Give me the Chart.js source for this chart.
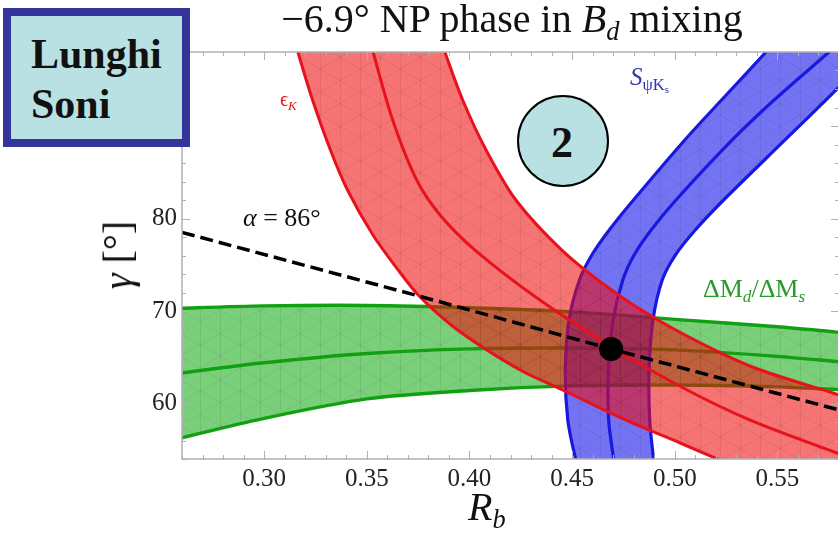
<!DOCTYPE html>
<html>
<head>
<meta charset="utf-8">
<script src="https://cdn.jsdelivr.net/npm/chart.js@4.4.0/dist/chart.umd.min.js"></script>
<style>
  html, body { margin: 0; padding: 0; background: #fff; overflow: hidden; }
  #cntr { position: relative; width: 838px; height: 535px; overflow: hidden;
          font-family: "Liberation Serif", "Times New Roman", serif; color: #111; }
  #grafica { position: absolute; left: 0; top: 0; }
  .txt { position: absolute; white-space: nowrap; line-height: 1; }
  sub { font-size: 0.66em; vertical-align: -0.3em; line-height: 0; }
  #caja { position: absolute; left: 3px; top: 8px; width: 187px; height: 139px; box-sizing: border-box;
          border: 8px solid #34349a; background: #b9e1e4; }
  #circulo { position: absolute; left: 517px; top: 95px; width: 92px; height: 92px; box-sizing: border-box;
             border: 2px solid #000; border-radius: 50%; background: #b9e1e4; }
</style>
</head>
<body>
<div id="cntr">
  <canvas id="grafica" width="840" height="535"></canvas>

  <div class="txt" style="left:512px; top:-1.5px; font-size:40px; transform:translateX(-50%);">&minus;6.9° NP phase in <i>B</i><sub><i>d</i></sub> mixing</div>

  <div id="caja"></div>
  <div class="txt" style="left:31px; top:33px; font-size:42px; font-weight:bold;">Lunghi</div>
  <div class="txt" style="left:31px; top:83px; font-size:42px; font-weight:bold;">Soni</div>

  <div id="circulo"></div>
  <div class="txt" style="left:562px; top:121px; font-size:44px; font-weight:bold; transform:translateX(-50%);">2</div>

  <div class="txt" style="left:280px; top:89px; font-size:20px; color:#e01a1a;">ϵ<sub><i>K</i></sub></div>
  <div class="txt" style="left:630px; top:64px; font-size:25px; color:#3434b4;"><i>S</i><sub>ψK<sub>s</sub></sub></div>
  <div class="txt" style="left:703px; top:276px; font-size:26px; color:#2a9a2a;">ΔM<sub><i>d</i></sub>/ΔM<sub><i>s</i></sub></div>
  <div class="txt" style="left:243px; top:205px; font-size:26px;"><i>α</i> = 86°</div>

  <div class="txt" style="left:118px; top:255px; font-size:40px; transform:translate(-50%,-50%) rotate(-90deg);"><i>γ</i> [°]</div>
  <div class="txt" style="left:468px; top:487px; font-size:40px;"><i>R</i><sub><i>b</i></sub></div>
</div>

<script>
// Ejes
const xMin = 0.26, xMax = 0.58;
const yMin = 54, yMax = 98;
const xTicks = [0.30, 0.35, 0.40, 0.45, 0.50, 0.55];
const yTicks = [60, 70, 80, 90];

// Banda verde: ΔMd/ΔMs  [Rb, gamma]
const dmUpper = [[0.25, 70.2], [0.26, 70.3], [0.30, 70.55], [0.35, 70.6], [0.40, 70.35], [0.45, 69.9], [0.50, 69.1], [0.55, 68.3], [0.58, 67.7], [0.59, 67.5]];
const dmMid   = [[0.25, 62.9], [0.26, 63.3], [0.30, 64.4], [0.35, 65.4], [0.40, 65.9], [0.45, 66.0], [0.50, 65.8], [0.55, 65.1], [0.58, 64.5], [0.59, 64.3]];
const dmLower = [[0.25, 55.7], [0.26, 56.3], [0.30, 58.4], [0.35, 60.5], [0.40, 61.4], [0.45, 61.9], [0.50, 62.0], [0.55, 61.8], [0.58, 61.5], [0.59, 61.4]];

// Banda roja: epsilon_K
const ekLeft  = [[0.3122, 101.46], [0.3166, 97.89], [0.3236, 92.81], [0.3323, 87.41], [0.3406, 83.08], [0.3530, 78.22],
                 [0.3653, 74.43], [0.3755, 71.62], [0.3911, 68.49], [0.4085, 65.78], [0.4265, 63.41], [0.4454, 61.46],
                 [0.4760, 58.22], [0.5027, 55.73], [0.5231, 53.78], [0.5454, 51.73], [0.5746, 49.57]];
const ekMid   = [[0.3488, 101.46], [0.3532, 97.89], [0.3626, 90.65], [0.3743, 84.16], [0.3857, 80.38], [0.4027, 76.59],
                 [0.4343, 71.19], [0.4702, 66.00], [0.5032, 61.78], [0.5365, 58.22], [0.5790, 54.65], [0.60, 53.1]];
const ekRight = [[0.3826, 101.46], [0.3882, 97.89], [0.3967, 92.81], [0.4081, 87.41], [0.4226, 82.00], [0.4450, 76.59],
                 [0.4692, 72.27], [0.4918, 69.03], [0.5195, 65.78], [0.5418, 63.62], [0.5770, 61.14], [0.60, 59.5]];

// Banda azul: S_psiKs (de arriba a abajo)
const sLeft  = [[0.5590, 101.57], [0.5440, 97.89], [0.5246, 93.24], [0.5049, 88.49], [0.4799, 82.00], [0.4681, 78.76],
                [0.4596, 76.05], [0.4536, 73.35], [0.4485, 69.03], [0.4467, 63.62], [0.4479, 58.22], [0.4518, 53.89], [0.4539, 52.27]];
const sMid   = [[0.5938, 101.57], [0.5746, 97.89], [0.5484, 92.81], [0.5280, 88.49], [0.5006, 82.00], [0.4885, 78.76],
                [0.4802, 76.05], [0.4747, 73.35], [0.4700, 69.03], [0.4677, 63.62], [0.4678, 58.22], [0.4703, 53.89], [0.4714, 52.27]];
const sRight = [[0.5988, 98.43], [0.5785, 93.89], [0.5537, 88.49], [0.5238, 82.00], [0.5100, 78.76], [0.5003, 76.05],
                [0.4939, 73.35], [0.4894, 69.03], [0.4875, 63.62], [0.4878, 58.22], [0.4897, 53.89], [0.4904, 52.27]];

// alpha = 86°
const alphaLine = [[0.26, 78.5], [0.374, 71.7], [0.469, 65.9], [0.58, 59.3]];
const ajuste = [0.469, 65.9];

const puntos = arr => arr.map(([x, y]) => ({ x, y }));
const banda = (a, b) => puntos(a.concat(b.slice().reverse()));

// relleno translúcido con la malla triangular
function patron(color) {
  const c = document.createElement('canvas');
  c.width = 40; c.height = 46;
  const g = c.getContext('2d');
  g.fillStyle = color;
  g.fillRect(0, 0, 40, 46);
  g.strokeStyle = 'rgba(0,0,0,0.07)';
  g.lineWidth = 1;
  const seg = (a, b, c2, d) => { g.beginPath(); g.moveTo(a, b); g.lineTo(c2, d); g.stroke(); };
  seg(0.5, 0, 0.5, 46); seg(20.5, 0, 20.5, 46);
  seg(0, 0, 40, 23); seg(0, 23, 40, 46);
  seg(0, 23, 40, 0); seg(0, 46, 40, 23);
  return g.createPattern(c, 'repeat');
}

const relleno = (data, color, order) => ({
  data, order, fill: 'shape', backgroundColor: patron(color),
  borderWidth: 0, pointRadius: 0, clip: 0
});
const linea = (data, color, width, order) => ({
  data: puntos(data), order, fill: false, borderColor: color,
  borderWidth: width, pointRadius: 0, clip: 0
});

const verde = '#12a012', rojo = '#e8121c', azul = '#1818e0';

// marco con marcas hacia dentro
const marco = {
  id: 'marco',
  afterDatasetsDraw(chart) {
    const { ctx, chartArea: a, scales: { x, y } } = chart;
    ctx.save();
    ctx.strokeStyle = '#b0b0b0';
    ctx.lineWidth = 1;
    const seg = (x1, y1, x2, y2) => { ctx.beginPath(); ctx.moveTo(x1, y1); ctx.lineTo(x2, y2); ctx.stroke(); };
    for (let i = 26; i <= 58; i++) {
      const px = Math.round(x.getPixelForValue(i / 100)) + 0.5;
      const len = i % 5 === 0 ? 8 : 4;
      seg(px, a.bottom, px, a.bottom - len);
      seg(px, a.top, px, a.top + len);
    }
    for (let v = 54; v <= 98; v += 2) {
      const py = Math.round(y.getPixelForValue(v)) + 0.5;
      const len = v % 10 === 0 ? 8 : 4;
      seg(a.left, py, a.left + len, py);
      seg(a.right, py, a.right - len, py);
    }
    ctx.lineWidth = 1.5;
    ctx.strokeRect(a.left, a.top, a.right - a.left, a.bottom - a.top);
    ctx.restore();
  }
};

const fuenteTicks = { family: '"Liberation Serif", serif', size: 25 };

new Chart(document.getElementById('grafica'), {
  type: 'line',
  data: {
    datasets: [
      { data: [{ x: ajuste[0], y: ajuste[1] }], order: 0, showLine: false, pointRadius: 12,
        pointBackgroundColor: '#000', pointBorderWidth: 0, clip: 0 },
      { data: puntos(alphaLine), order: 1, borderColor: '#000', borderWidth: 3.5, borderDash: [13, 6],
        pointRadius: 0, fill: false, clip: 0, tension: 0 },
      linea(ekLeft, rojo, 3, 2),
      linea(ekMid, rojo, 3, 2),
      linea(ekRight, rojo, 3, 2),
      relleno(banda(ekLeft, ekRight), 'rgba(240,10,10,0.57)', 3),
      linea(sLeft, azul, 3.2, 4),
      linea(sMid, azul, 3.2, 4),
      linea(sRight, azul, 3.2, 4),
      relleno(banda(sLeft, sRight), 'rgba(0,0,235,0.55)', 5),
      linea(dmUpper, verde, 3.4, 6),
      linea(dmMid, verde, 3.4, 6),
      linea(dmLower, verde, 3.4, 6),
      relleno(banda(dmUpper, dmLower), 'rgba(0,165,0,0.52)', 7)
    ]
  },
  options: {
    responsive: false,
    animation: false,
    devicePixelRatio: 1,
    layout: { autoPadding: false, padding: { top: 52, right: 1, left: 0, bottom: 0 } },
    elements: { line: { tension: 0.3, capBezierPoints: false } },
    plugins: { legend: { display: false }, tooltip: { enabled: false } },
    scales: {
      x: {
        type: 'linear', min: xMin, max: xMax,
        grid: { display: false, drawTicks: false }, border: { display: false },
        afterBuildTicks: s => { s.ticks = xTicks.map(v => ({ value: v })); },
        afterFit: s => { s.height = 76; s.paddingLeft = 0; s.paddingRight = 0; },
        ticks: { font: fuenteTicks, color: '#222', padding: 5, maxRotation: 0,
                 callback: v => v.toFixed(2) }
      },
      y: {
        type: 'linear', min: yMin, max: yMax,
        grid: { display: false, drawTicks: false }, border: { display: false },
        afterBuildTicks: s => { s.ticks = yTicks.map(v => ({ value: v })); },
        afterFit: s => { s.width = 182; s.paddingTop = 0; s.paddingBottom = 0; },
        ticks: { font: fuenteTicks, color: '#222', padding: 5 }
      }
    }
  },
  plugins: [marco]
});
</script>
</body>
</html>
